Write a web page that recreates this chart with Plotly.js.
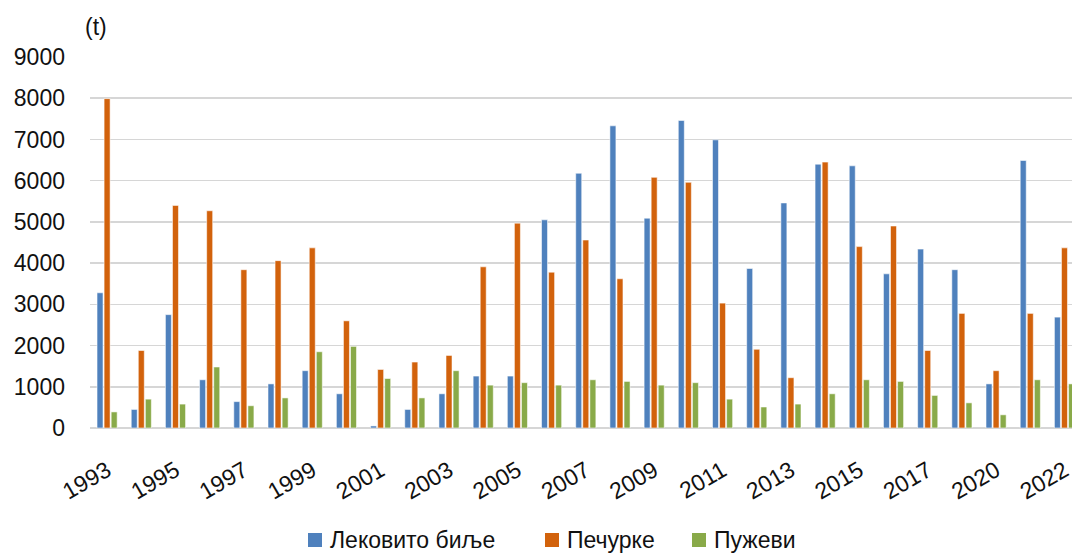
<!DOCTYPE html>
<html>
<head>
<meta charset="utf-8">
<script src="https://cdn.plot.ly/plotly-3.0.1.min.js"></script>
<style>html,body{margin:0;padding:0;background:#fff;}#chart{width:1072px;height:553px;}</style>
</head>
<body>
<div id="chart"></div>
<script>
const years = ["1993","1994","1995","1996","1997","1998","1999","2000","2001","2002","2003","2004","2005","2006","2007","2008","2009","2010","2011","2012","2013","2014","2015","2016","2017","2018","2020","2021","2022"];
const tickYears = ["1993","1995","1997","1999","2001","2003","2005","2007","2009","2011","2013","2015","2017","2020","2022"];
const seriesNames = ["Лековито биље","Печурке","Пужеви"];
const herbs = [3280,450,2750,1170,640,1070,1390,830,50,450,830,1260,1260,5050,6180,7330,5090,7460,6990,3870,5460,6400,6360,3740,4340,3840,1070,6490,2690];
const mushrooms = [7990,1880,5400,5270,3840,4060,4370,2600,1420,1600,1760,3910,4970,3780,4560,3620,6080,5960,3030,1910,1220,6450,4400,4900,1880,2780,1390,2780,4370];
const snails = [390,700,580,1480,540,730,1850,1980,1200,730,1390,1040,1100,1040,1170,1130,1040,1100,700,510,580,830,1170,1130,790,610,320,1170,1070];
const colors = ["#4F81BD","#D2620C","#89AA49"];

const font = "Liberation Sans, Arial, sans-serif";
const W = 1072, H = 553;
const M = {l: 90, r: 0, t: 57, b: 125};
const pw = W - M.l - M.r, ph = H - M.t - M.b;

const data = [herbs, mushrooms, snails].map((vals, i) => ({
  type: "bar",
  name: seriesNames[i],
  x: years,
  y: vals,
  marker: {color: colors[i], line: {color: "rgba(255,255,255,0.55)", width: 1}},
  hoverinfo: "x+y+name",
  showlegend: false
}));

// custom legend (pixel positions converted to paper coords)
const legendX = [308, 545, 692];
const legendY = 540;
const px2x = p => (p - M.l) / pw;
const py2y = p => (H - M.b - p) / ph;
const shapes = seriesNames.map((n, i) => ({
  type: "rect", xref: "paper", yref: "paper",
  x0: px2x(legendX[i]), x1: px2x(legendX[i] + 14),
  y0: py2y(legendY + 7), y1: py2y(legendY - 7),
  fillcolor: colors[i], line: {width: 0}
}));
const legendAnn = seriesNames.map((n, i) => ({
  text: n, xref: "paper", yref: "paper",
  x: px2x(legendX[i] + 20), y: py2y(legendY),
  xanchor: "left", yanchor: "middle", showarrow: false,
  font: {size: 23, family: font, color: "#111"}
}));

const layout = {
  width: W, height: H,
  margin: {l: M.l, r: M.r, t: M.t, b: M.b, autoexpand: false},
  paper_bgcolor: "#fff", plot_bgcolor: "#fff",
  barmode: "group",
  bargap: 0.38,
  bargroupgap: 0.15,
  font: {family: font, color: "#1a1a1a"},
  xaxis: {
    type: "category",
    range: [-0.5, 28.22],
    tickvals: tickYears,
    ticktext: tickYears,
    tickangle: -30,
    tickfont: {size: 23, family: font, color: "#111"},
    ticks: "",
    ticklabelstandoff: 24,
    showgrid: false,
    showline: false,
    zeroline: false,
    automargin: false
  },
  yaxis: {
    range: [0, 9000],
    tickvals: [0,1000,2000,3000,4000,5000,6000,7000,8000,9000],
    tickfont: {size: 23, family: font, color: "#111"},
    ticks: "",
    ticklabelstandoff: 24,
    showgrid: true,
    gridcolor: "#d6d6d6",
    gridwidth: 1.5,
    zeroline: true,
    zerolinecolor: "#d6d6d6",
    zerolinewidth: 1.5,
    showline: false,
    automargin: false
  },
  shapes: shapes,
  annotations: [{
    text: "(t)", xref: "paper", yref: "paper", x: 0.0, y: 1.0,
    xshift: 6, yshift: 30,
    showarrow: false, xanchor: "center", yanchor: "middle",
    font: {size: 23, family: font, color: "#111"}
  }].concat(legendAnn),
  showlegend: false
};

Plotly.newPlot("chart", data, layout, {displayModeBar: false, staticPlot: true});
</script>
</body>
</html>
